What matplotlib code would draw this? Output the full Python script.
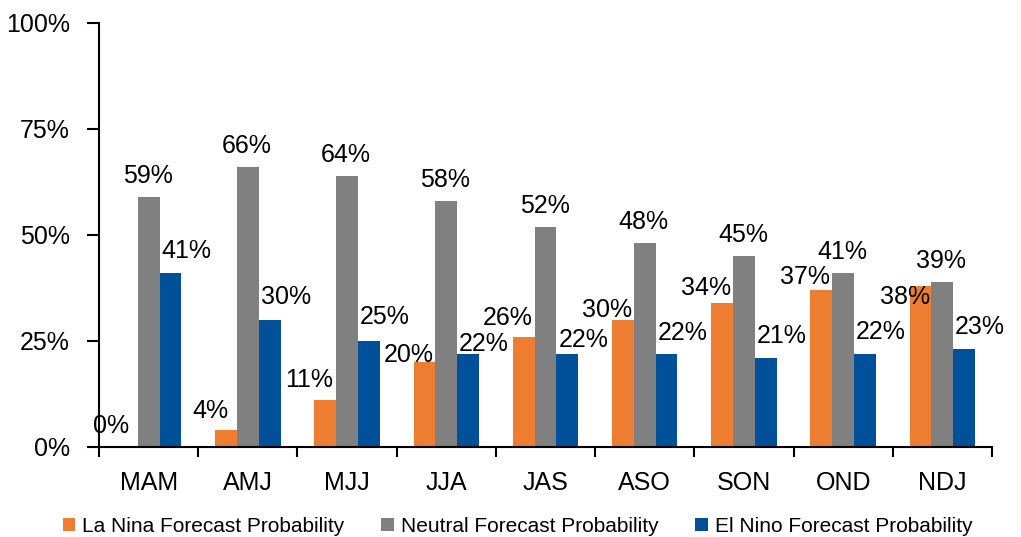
import matplotlib
matplotlib.use("Agg")
import matplotlib.pyplot as plt
import numpy as np

seasons = ['MAM', 'AMJ', 'MJJ', 'JJA', 'JAS', 'ASO', 'SON', 'OND', 'NDJ']
la_nina = [0, 4, 11, 20, 26, 30, 34, 37, 38]
neutral = [59, 66, 64, 58, 52, 48, 45, 41, 39]
el_nino = [41, 30, 25, 22, 22, 22, 21, 22, 23]
y_ticks = [0, 25, 50, 75, 100]

# label lift above the bar top (pixels), nudged where labels would collide
la_nina_lift = [14, 12, 13, 0, 12, 3, 8, 6, -18]
neutral_lift = [14] * 9
el_nino_lift = [15, 16, 17, 3, 7, 14, 15, 15, 15]

plt.rcParams['font.family'] = ['Liberation Sans', 'DejaVu Sans']

fig = plt.figure(figsize=(10.21, 5.37), dpi=100)
ax = fig.add_axes([0.097, 0.1676, 0.8746, 0.7896])

x = np.arange(len(seasons))
w = 0.22
px = 0.72  # points per pixel at 100 dpi
series = [
    (la_nina, la_nina_lift, 'La Nina Forecast Probability', '#ED7D31', -w, -16),
    (neutral, neutral_lift, 'Neutral Forecast Probability', '#808080', 0, -1),
    (el_nino, el_nino_lift, 'El Nino Forecast Probability', '#00509A', w, 16),
]

for vals, lift, name, color, shift, dx in series:
    ax.bar(x + shift, vals, width=w, color=color, label=name, zorder=2)
    for xi, v, dy in zip(x + shift, vals, lift):
        ax.annotate(f'{v}%', (xi, v), xytext=(dx * px, dy * px), textcoords='offset points',
                    ha='center', va='baseline', fontsize=18, zorder=3)

ax.set_xlim(-0.5, len(seasons) - 0.5)
ax.set_ylim(0, 100)
ax.set_yticks(y_ticks)
ax.set_yticklabels([f'{t}%' for t in y_ticks], fontsize=18)

# category ticks on the boundaries, labels in the middle
ax.set_xticks(np.arange(len(seasons) + 1) - 0.5)
ax.set_xticklabels([])
ax.set_xticks(x, minor=True)
ax.set_xticklabels(seasons, minor=True, fontsize=18)
ax.tick_params(axis='x', which='major', length=7, width=1.5, direction='out')
ax.tick_params(axis='x', which='minor', length=0, pad=17)
ax.tick_params(axis='y', length=9, width=1.5, direction='out', pad=12)

for s in ['top', 'right']:
    ax.spines[s].set_visible(False)
for s in ['left', 'bottom']:
    ax.spines[s].set_linewidth(1.5)

fig.legend(loc='lower left', bbox_to_anchor=(0.043, -0.033), ncol=3, frameon=False,
           fontsize=15, handlelength=0.6, handleheight=0.6, handletextpad=0.35,
           columnspacing=1.75)

fig.savefig('out.png', dpi=100)
